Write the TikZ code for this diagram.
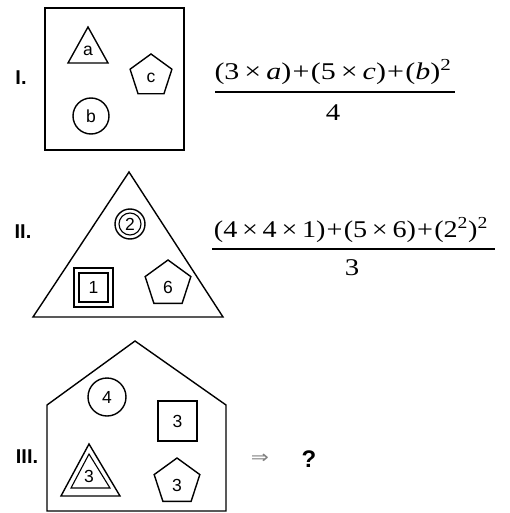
\documentclass[tikz,border=0pt]{standalone}
\usepackage{fontspec}
\setmainfont{Liberation Serif}
\setsansfont{Liberation Sans}
\newfontfamily\dejavu{DejaVu Sans}
\usetikzlibrary{shapes.geometric}
\begin{document}
\begin{tikzpicture}[x=1pt,y=-1pt,line width=1.4pt,line join=miter,
  lbl/.style={font=\sffamily\fontsize{17.5}{17.5}\selectfont,inner sep=0},
  roman/.style={font=\sffamily\bfseries\fontsize{20}{20}\selectfont,inner sep=0},
  frm/.style={font=\fontsize{24}{24}\selectfont,inner sep=0},
  pent/.style={draw,regular polygon,regular polygon sides=5,inner sep=0},
  thin/.style={line width=1.1pt}]
\useasboundingbox (0,0) rectangle (510,513);
% ---------- I ----------
\node[roman] (r1) at (21,78) {I.};
\draw (45,8) rectangle (184,150);
\draw (88,27) -- (108,63) -- (68,63) -- cycle;
\node[lbl] (la) at (88,51) {a};
\node[pent,minimum size=44pt] (pc) at (151,76) {};
\node[lbl] (lc) at (151,78) {c};
\node[draw,circle,minimum size=36pt,inner sep=0] (cb) at (91,116) {};
\node[lbl] (lb) at (91,116) {b};
\node[frm] (n1) at (333,72) {\resizebox{237pt}{\height}{(3\,×\,\textit{a})\kern1pt+\kern1pt(5\,×\,\textit{c})\kern1pt+\kern1pt(\textit{b})\textsuperscript{2}}};
\coordinate (b1l) at (215,92);
\coordinate (b1r) at (455,92);
\draw[line width=1.2pt] (b1l) -- (b1r);
\node[frm] (d1) at (333,113) {\scalebox{1.2}[1]{4}};
% ---------- II ----------
\node[roman] (r2) at (23,232) {II.};
\draw (129,172) -- (223,317) -- (33,317) -- cycle;
\node[draw,circle,minimum size=30pt,inner sep=0] (c2o) at (130,224) {};
\node[draw,circle,minimum size=22pt,inner sep=0,thin] (c2i) at (130,224) {};
\node[lbl] (l2) at (130,224) {2};
\draw (74,268) rectangle (113,307);
\draw[thin] (79,273) rectangle (108,302);
\node[lbl] (l1) at (93.5,287.5) {1};
\node[pent,minimum size=48pt] (p6) at (168,284) {};
\node[lbl] (l6) at (168,287) {6};
\node[frm] (n2) at (351,230) {\resizebox{274pt}{\height}{(4\,×\,4\,×\,1)\kern1pt+\kern1pt(5\,×\,6)\kern1pt+\kern1pt(2\textsuperscript{2})\textsuperscript{2}}};
\coordinate (b2l) at (212,249);
\coordinate (b2r) at (495,249);
\draw[line width=1.2pt] (b2l) -- (b2r);
\node[frm] (d2) at (352,268) {\scalebox{1.2}[1]{3}};
% ---------- III ----------
\node[roman] (r3) at (27,457) {III.};
\draw (135,341) -- (226,405) -- (226,511) -- (47,511) -- (47,405) -- cycle;
\node[draw,circle,minimum size=38pt,inner sep=0] (c4) at (107,397) {};
\node[lbl] (l4) at (107,397) {4};
\draw (158,401) rectangle (197,441);
\node[lbl] (l3a) at (177.5,421) {3};
\draw (89,444) -- (120,496) -- (61,496) -- cycle;
\draw[thin] (89,454) -- (110,488) -- (71,488) -- cycle;
\node[lbl] (l3b) at (89,476) {3};
\node[pent,minimum size=48pt] (p3) at (177,482) {};
\node[lbl] (l3c) at (177,485) {3};
\node[font=\dejavu\fontsize{18}{18}\selectfont,text=gray,inner sep=0] (ar) at (260,459) {\scalebox{1.2}[1]{⇒}};
\node[font=\sffamily\bfseries\fontsize{24}{24}\selectfont,inner sep=0] (q) at (309,459) {?};
\end{tikzpicture}
\end{document}
